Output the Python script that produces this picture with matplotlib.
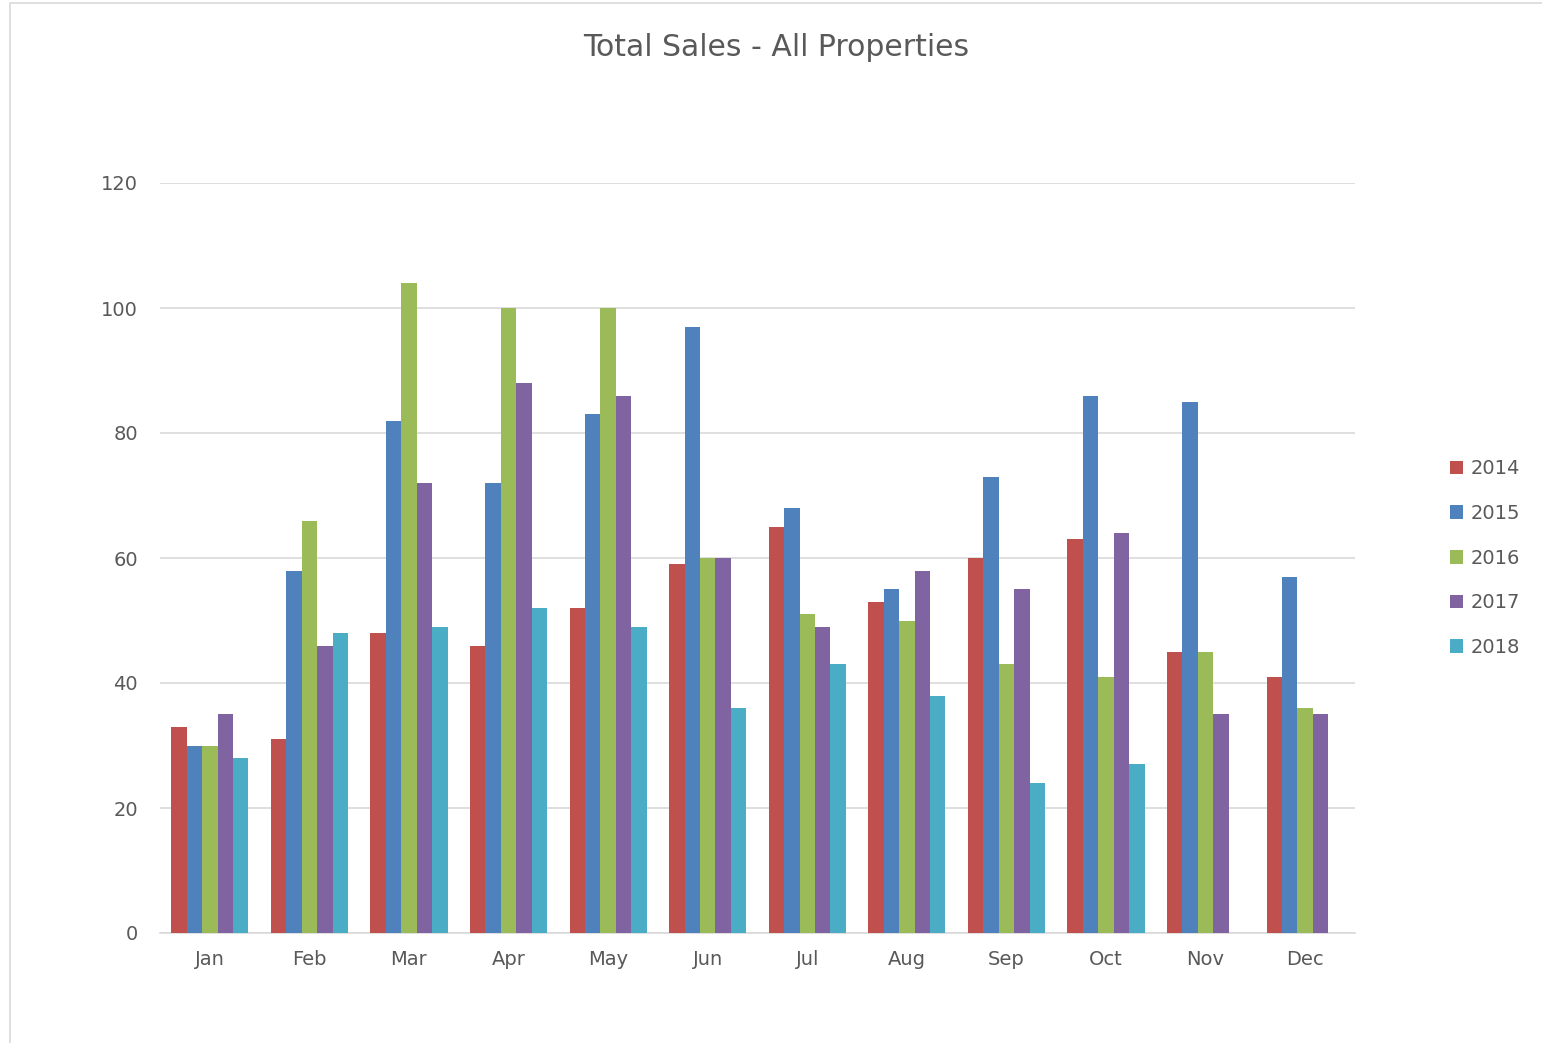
import matplotlib.pyplot as plt
import numpy as np
from matplotlib.patches import Rectangle

months = ["Jan", "Feb", "Mar", "Apr", "May", "Jun", "Jul", "Aug", "Sep", "Oct", "Nov", "Dec"]
years = ["2014", "2015", "2016", "2017", "2018"]
sales_2014 = [33, 31, 48, 46, 52, 59, 65, 53, 60, 63, 45, 41]
sales_2015 = [30, 58, 82, 72, 83, 97, 68, 55, 73, 86, 85, 57]
sales_2016 = [30, 66, 104, 100, 100, 60, 51, 50, 43, 41, 45, 36]
sales_2017 = [35, 46, 72, 88, 86, 60, 49, 58, 55, 64, 35, 35]
sales_2018 = [28, 48, 49, 52, 49, 36, 43, 38, 24, 27, np.nan, np.nan]
colors = ["#C0504D", "#4F81BD", "#9BBB59", "#8064A2", "#4BACC6"]

series = [sales_2014, sales_2015, sales_2016, sales_2017, sales_2018]

fig = plt.figure(figsize=(15.42, 10.43), dpi=100)
ax = fig.add_axes([160 / 1542, 1 - 933 / 1043, 1195 / 1542, 750 / 1043])

# chart border
fig.patches.append(Rectangle((10 / 1542, -0.01), 1.5, 1 - 3 / 1043 + 0.01, transform=fig.transFigure,
                             fill=False, edgecolor="#D9D9D9", linewidth=1.2))

x = np.arange(len(months))
width = 0.155
for i, (vals, year, color) in enumerate(zip(series, years, colors)):
    ax.bar(x + (i - 2) * width, vals, width, color=color, label=year, zorder=3)

ax.set_xlim(-0.5, len(months) - 0.5)
ax.set_ylim(0, 120)
ax.set_yticks(range(0, 121, 20))
ax.set_xticks(x)
ax.set_xticklabels(months)
ax.grid(axis="y", color="#D9D9D9", linewidth=1.2, zorder=0)
for side in ["top", "right", "left"]:
    ax.spines[side].set_visible(False)
ax.spines["bottom"].set_color("#D9D9D9")
ax.spines["bottom"].set_linewidth(1.2)
ax.tick_params(length=0, labelsize=14, labelcolor="#595959", pad=12)
ax.tick_params(axis="y", pad=16)

fig.text(776 / 1542, 1 - 48 / 1043, "Total Sales - All Properties", ha="center", va="center",
         fontsize=21.5, color="#595959")

fig.legend(loc="center left", bbox_to_anchor=(1432 / 1542, 1 - 558 / 1043), frameon=False,
           fontsize=14, labelcolor="#595959", handlelength=0.7, handleheight=0.7,
           handletextpad=0.4, labelspacing=1.32)

fig.savefig("out.png", dpi=100)
